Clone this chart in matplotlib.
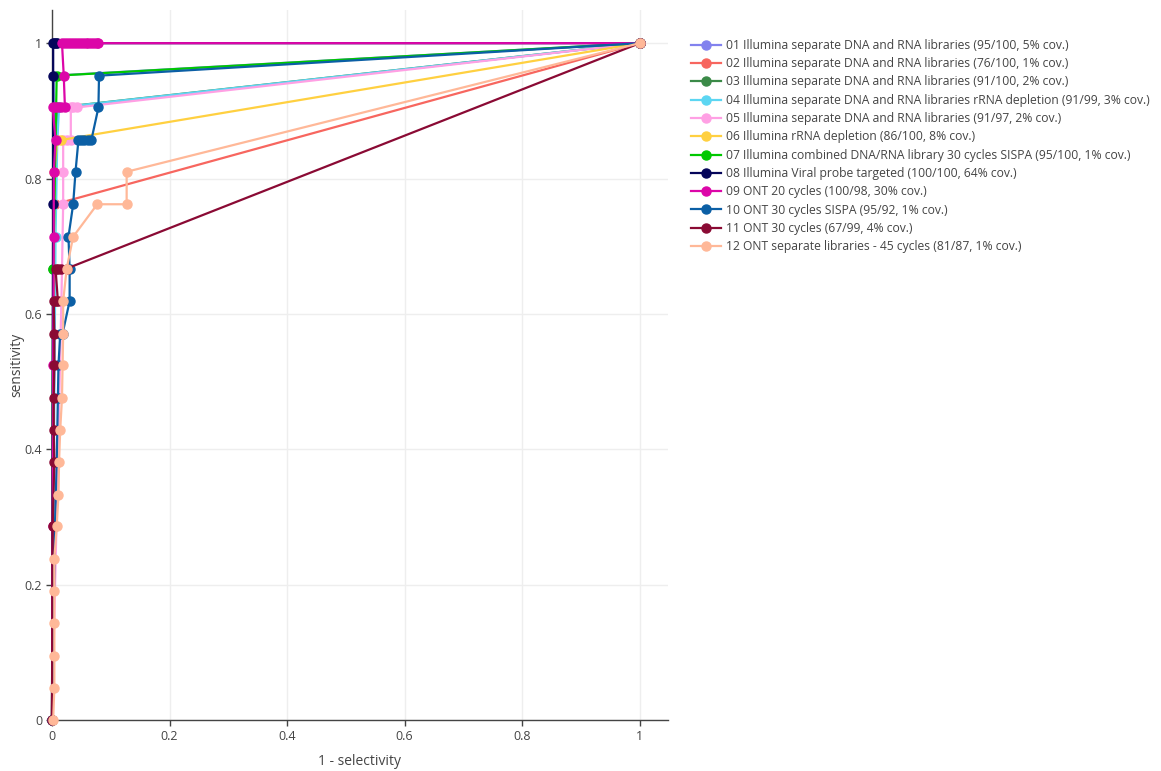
import matplotlib
matplotlib.use("Agg")
import matplotlib.pyplot as plt

plt.rcParams['font.family'] = ['Open Sans', 'DejaVu Sans']

# ROC points per run: x = 1 - selectivity, y = sensitivity
labels = [
    "01 Illumina separate DNA and RNA libraries (95/100, 5% cov.)",
    "02 Illumina separate DNA and RNA libraries (76/100, 1% cov.)",
    "03 Illumina separate DNA and RNA libraries (91/100, 2% cov.)",
    "04 Illumina separate DNA and RNA libraries rRNA depletion (91/99, 3% cov.)",
    "05 Illumina separate DNA and RNA libraries (91/97, 2% cov.)",
    "06 Illumina rRNA depletion (86/100, 8% cov.)",
    "07 Illumina combined DNA/RNA library 30 cycles SISPA (95/100, 1% cov.)",
    "08 Illumina Viral probe targeted (100/100, 64% cov.)",
    "09 ONT 20 cycles (100/98, 30% cov.)",
    "10 ONT 30 cycles SISPA (95/92, 1% cov.)",
    "11 ONT 30 cycles (67/99, 4% cov.)",
    "12 ONT separate libraries - 45 cycles (81/87, 1% cov.)",
]
colors = ["#8282ee", "#f7665f", "#3b8a48", "#5cd6f2", "#ffa0e4", "#ffd040",
          "#00c800", "#05055a", "#dc06a8", "#0b5fa5", "#8a0a34", "#ffb898"]

x01 = [0, 0.003, 1]
y01 = [0, 0.952, 1]
x02 = [0, 0.005, 1]
y02 = [0, 0.762, 1]
x03 = [0, 0.002, 0.01, 1]
y03 = [0, 0.667, 0.905, 1]
x04 = [0, 0.006, 0.009, 0.012, 1]
y04 = [0, 0.714, 0.857, 0.905, 1]
x05 = [0, 0.01, 0.016, 0.019, 0.019, 0.019, 0.025, 0.032, 0.032, 0.036, 0.042, 1]
y05 = [0, 0.381, 0.619, 0.762, 0.81, 0.857, 0.857, 0.857, 0.905, 0.905, 0.905, 1]
x06 = [0, 0.004, 0.009, 0.016, 1]
y06 = [0, 0.81, 0.857, 0.857, 1]
x07 = [0, 0.002, 0.008, 1]
y07 = [0, 0.667, 0.952, 1]
x08 = [0, 0.002, 0.002, 0.002, 0.004, 0.006, 0.008, 1]
y08 = [0, 0.762, 0.952, 1, 1, 1, 1, 1]
x09 = [0, 0.001, 0.002, 0.003, 0.003, 0.006, 0.001, 0.005, 0.01, 0.015, 0.022,
       0.02, 0.017, 0.022, 0.027, 0.032, 0.037, 0.042, 0.047, 0.052, 0.057,
       0.062, 0.067, 0.072, 0.076, 0.079, 1]
y09 = [0, 0.286, 0.524, 0.714, 0.81, 0.857, 0.905, 0.905, 0.905, 0.905, 0.905,
       0.952, 1, 1, 1, 1, 1, 1, 1, 1, 1,
       1, 1, 1, 1, 1, 1]
x10 = [0, 0.005, 0.008, 0.01, 0.011, 0.014, 0.018, 0.03, 0.03, 0.028, 0.036,
       0.04, 0.045, 0.05, 0.055, 0.062, 0.067, 0.079, 0.08, 1]
y10 = [0, 0.286, 0.381, 0.476, 0.524, 0.571, 0.571, 0.619, 0.667, 0.714, 0.762,
       0.81, 0.857, 0.857, 0.857, 0.857, 0.857, 0.905, 0.952, 1]
x11 = [0, 0.001, 0.004, 0.003, 0.003, 0.004, 0.004, 0.003, 0.007, 0.01, 0.006,
       0.011, 0.016, 0.025, 1]
y11 = [0, 0.286, 0.381, 0.429, 0.476, 0.524, 0.571, 0.619, 0.619, 0.619, 0.667,
       0.667, 0.667, 0.667, 1]
x12 = [0.002, 0.004, 0.004, 0.004, 0.004, 0.004, 0.008, 0.011, 0.012, 0.014,
       0.017, 0.018, 0.019, 0.019, 0.025, 0.036, 0.077, 0.127, 0.127, 1]
y12 = [0, 0.048, 0.095, 0.143, 0.19, 0.238, 0.286, 0.333, 0.381, 0.429,
       0.476, 0.524, 0.571, 0.619, 0.667, 0.714, 0.762, 0.762, 0.81, 1]

xs = [x01, x02, x03, x04, x05, x06, x07, x08, x09, x10, x11, x12]
ys = [y01, y02, y03, y04, y05, y06, y07, y08, y09, y10, y11, y12]

fig = plt.figure(figsize=(11.61, 7.71), dpi=100)
ax = fig.add_axes([52 / 1161, 51 / 771, 616 / 1161, 710 / 771])

for i in range(len(labels)):
    ax.plot(xs[i], ys[i], color=colors[i], lw=1.6, marker='o', ms=6.5,
            label=labels[i], clip_on=False, zorder=3 + i)

ax.set_xlim(0, 1.048)
ax.set_ylim(0, 1.049)
ax.set_xticks([0, 0.2, 0.4, 0.6, 0.8, 1])
ax.set_xticklabels(["0", "0.2", "0.4", "0.6", "0.8", "1"])
ax.set_yticks([0, 0.2, 0.4, 0.6, 0.8, 1])
ax.set_yticklabels(["0", "0.2", "0.4", "0.6", "0.8", "1"])
ax.grid(True, color="#eeeeee", lw=1)
ax.set_axisbelow(True)
for s in ["top", "right"]:
    ax.spines[s].set_visible(False)
for s in ["left", "bottom"]:
    ax.spines[s].set_color("#444444")
    ax.spines[s].set_linewidth(1)
ax.tick_params(colors="#444444", labelsize=9, length=4, width=1, pad=3)
ax.set_xlabel("1 - selectivity", fontsize=10, color="#444444", labelpad=8)
ax.set_ylabel("sensitivity", fontsize=10, color="#444444", labelpad=0)

fig.legend(loc="upper left", bbox_to_anchor=(686 / 1161, 1 - 34 / 771),
           frameon=False, fontsize=8.7, handlelength=2.5, handletextpad=0.4,
           labelspacing=0.44, borderaxespad=0, labelcolor="#444444")

fig.savefig("out.png", dpi=100)
